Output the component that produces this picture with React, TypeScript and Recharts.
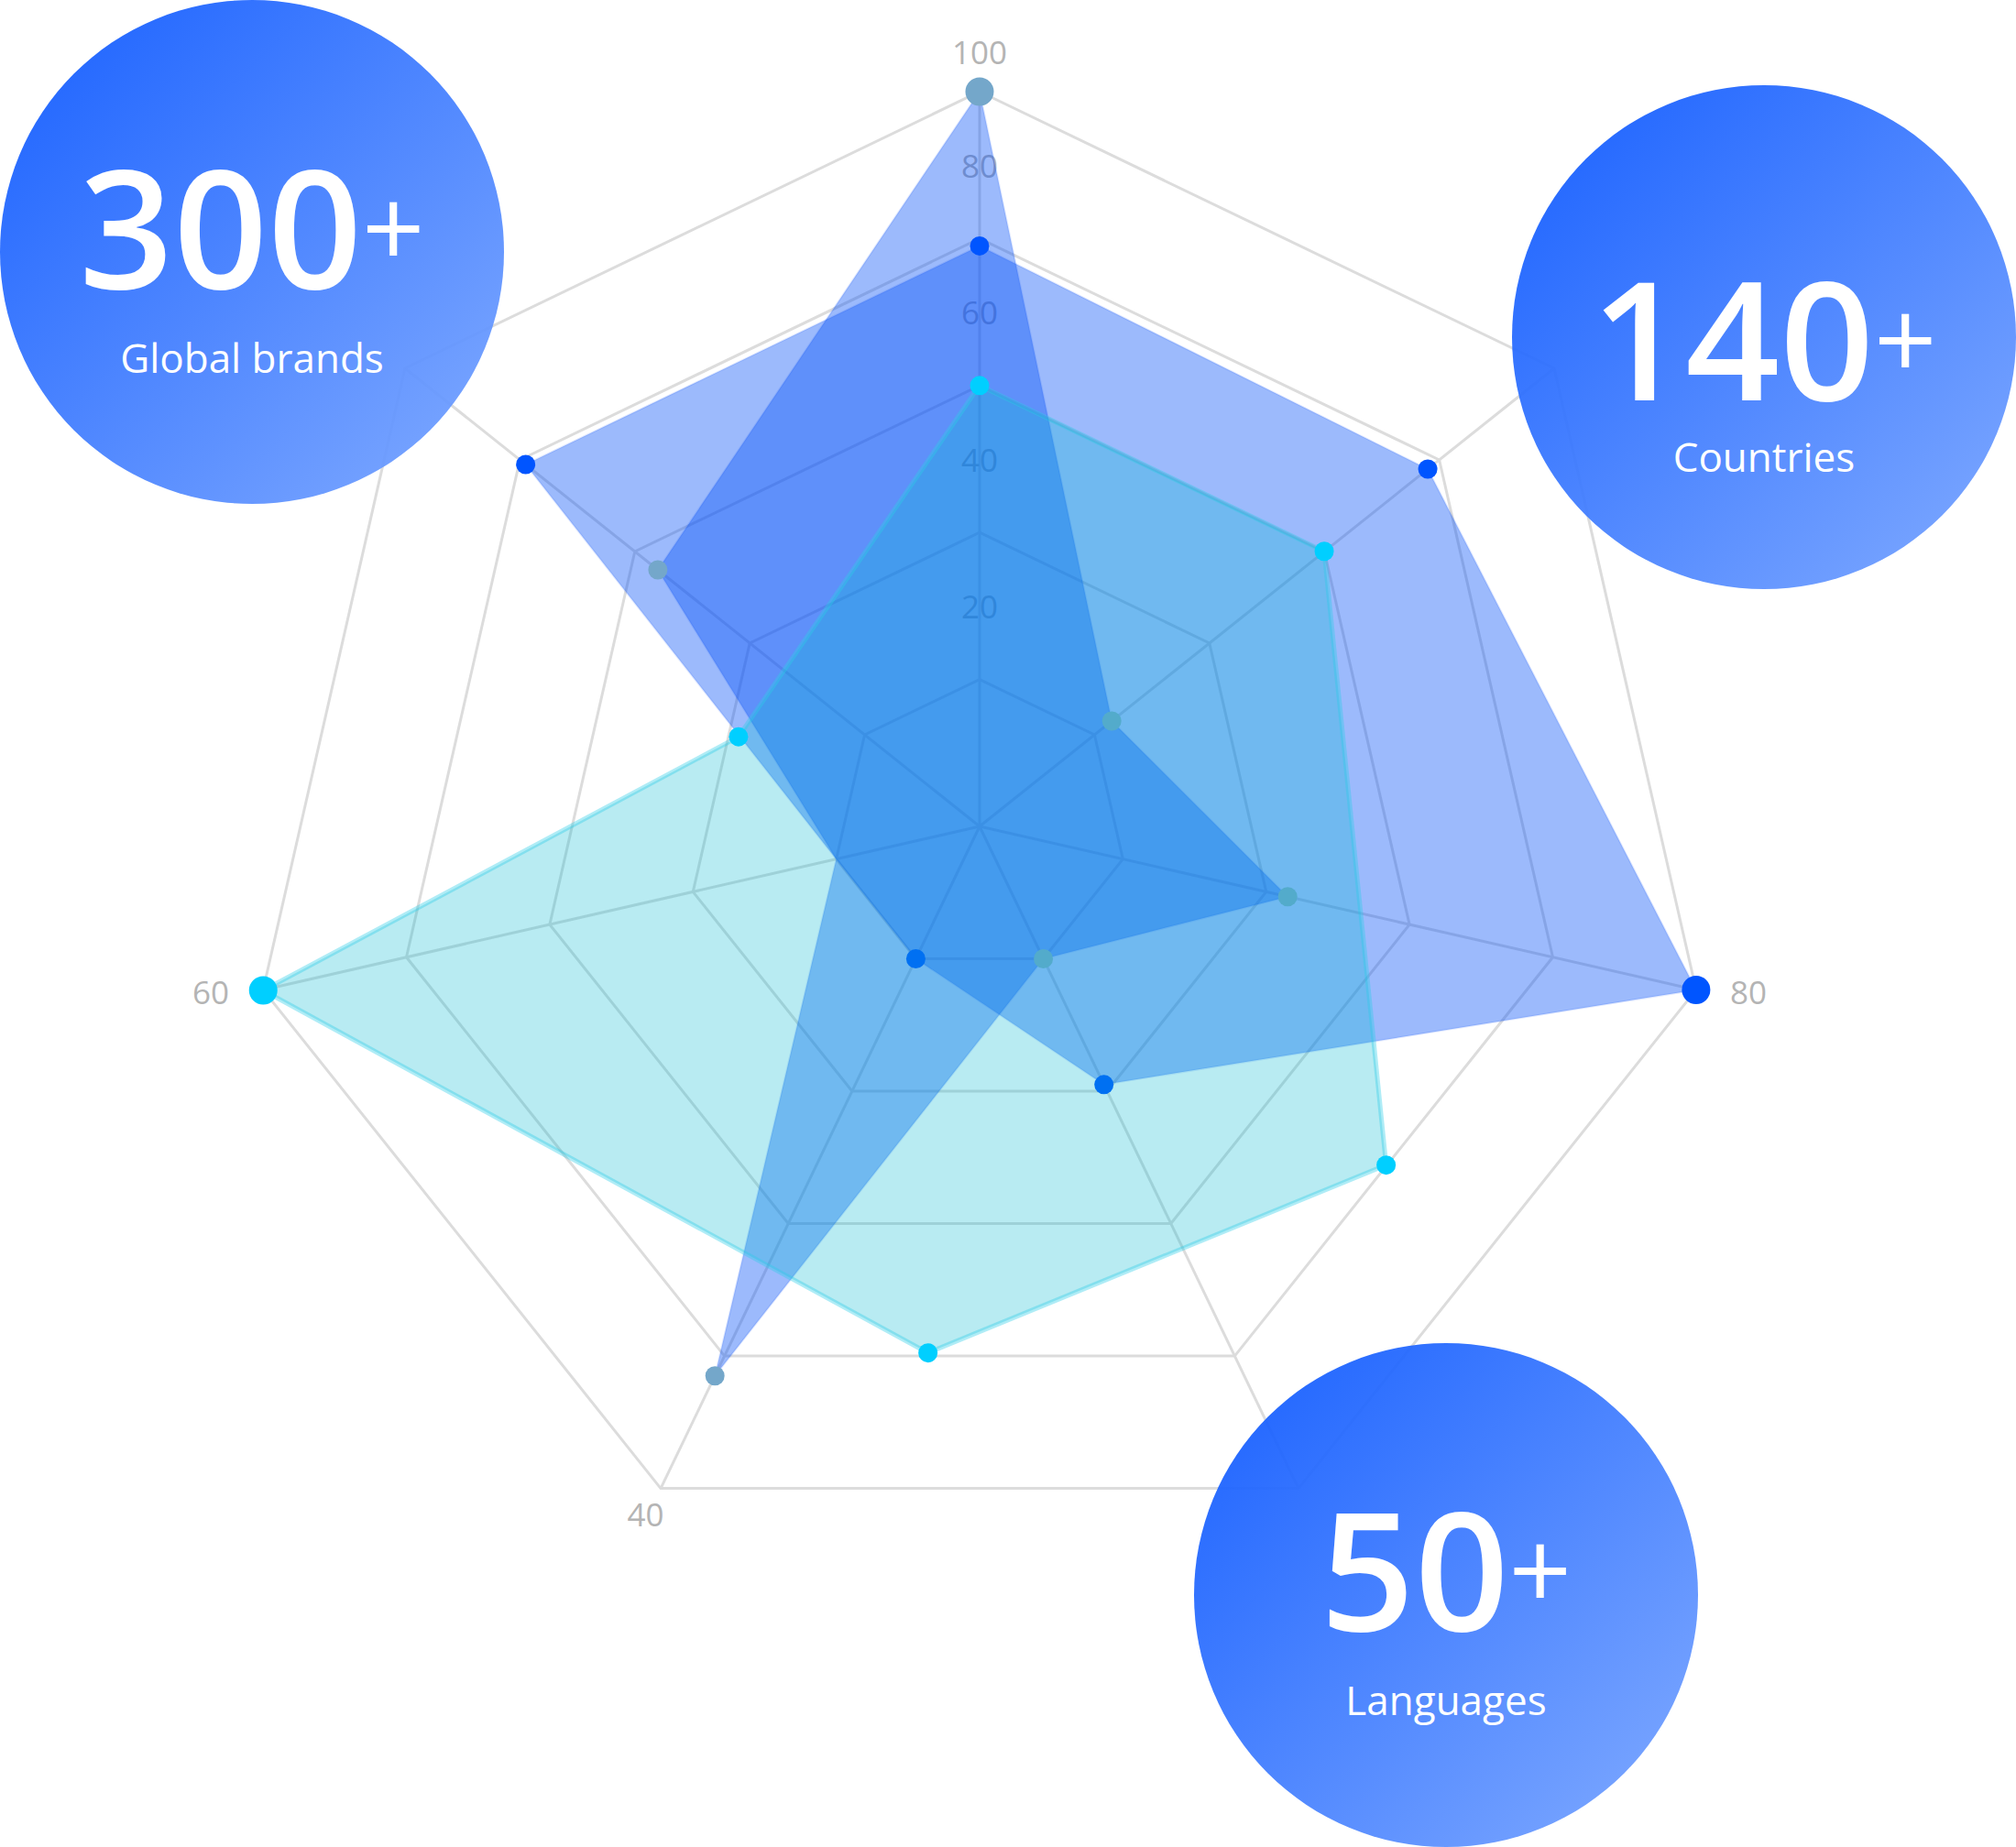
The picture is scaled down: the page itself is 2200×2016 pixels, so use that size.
import React from "react";
import {
  RadarChart,
  Radar,
  PolarGrid,
  PolarAngleAxis,
  PolarRadiusAxis,
} from "recharts";

const W = 2200;
const H = 2016;
const CX = 1069;
const CY = 902;
const R = 802;

// seven spokes, clockwise from the top; the reference shows no label on the
// three spokes that run under the stat circles
const AXIS_KEYS = ["n", "ne", "e", "se", "sw", "w", "nw"];
const AXIS_LABELS = ["100", "", "80", "", "40", "60", ""];
const SERIES_A = [100, 23, 43, 20, 83, 20, 56];
const SERIES_B = [79, 78, 100, 39, 20, 20, 79];
// spokes where the two blue shapes have a corner but no marker
const NO_DOT_AXES = ["w"];

// the cyan shape doesn't follow the spokes, so it has its own bearings (deg, clockwise from top)
const C_BEARINGS = [0, 51.4, 129.8, 185.6, 257.1, 290.4];
const SERIES_C = [60, 60, 72, 72, 100, 35];

const STAT_VALUES = ["300", "140", "50"];
const STAT_LABELS = ["Global brands", "Countries", "Languages"];

const STAT_POS = [
  { cx: 275, cy: 275, numY: 315, labelY: 407 },
  { cx: 1925, cy: 368, numY: 437, labelY: 515 },
  { cx: 1578, cy: 1741, numY: 1780, labelY: 1872 },
];

const FONT = "'Open Sans', 'Noto Sans', sans-serif";

const abRows = AXIS_KEYS.map((axis, i) => ({ axis, a: SERIES_A[i], b: SERIES_B[i] }));
const cRows = C_BEARINGS.map((bearing, i) => ({ bearing, c: SERIES_C[i] }));

const makeDot = (color: string, skip: string[]) => (props: any) => {
  const { cx, cy, index, payload } = props;
  const key = payload?.axis ?? payload?.payload?.axis ?? AXIS_KEYS[index];
  const value = props.value ?? payload?.value;
  const v = Array.isArray(value) ? value[value.length - 1] : value;
  if (cx == null || cy == null || skip.includes(String(key))) {
    return <g key={`dot-${index}`} />;
  }
  return (
    <circle key={`dot-${index}`} cx={cx} cy={cy} r={v >= 100 ? 15.5 : 10.5} fill={color} />
  );
};

const AngleTick = (props: any) => {
  const { x, y, payload, index } = props;
  const i = AXIS_KEYS.indexOf(payload.value);
  const label = AXIS_LABELS[i >= 0 ? i : index];
  if (!label) return <g />;
  const dx = x - CX;
  const dy = y - CY;
  const cos = dx / Math.sqrt(dx * dx + dy * dy || 1);
  const anchor = cos > 0.6 ? "start" : cos < -0.6 ? "end" : "middle";
  return (
    <text
      x={x}
      y={y}
      dy={-6}
      textAnchor={anchor}
      dominantBaseline="central"
      fontSize={35}
      fill="#b4b4b4"
      style={{ fontFamily: FONT }}
    >
      {label}
    </text>
  );
};

const RadiusTick = (props: any) => {
  const { x, y, payload, index } = props;
  if (payload.value === 0 || payload.value === 100) return <g key={`rt-${index}`} />;
  return (
    <text
      key={`rt-${index}`}
      x={x}
      y={y}
      dy={-80}
      textAnchor="middle"
      dominantBaseline="central"
      fontSize={35}
      fill="#b4b4b4"
      style={{ fontFamily: FONT }}
    >
      {payload.value}
    </text>
  );
};

export default function App() {
  return (
    <div
      style={{
        position: "absolute",
        left: 0,
        top: 0,
        width: W,
        height: H,
        background: "#fff",
        fontFamily: FONT,
        overflow: "hidden",
      }}
    >
      {/* grid + the two blue shapes */}
      <div style={{ position: "absolute", left: 0, top: 0 }}>
        <RadarChart
          width={W}
          height={H}
          cx={CX}
          cy={CY}
          outerRadius={R}
          data={abRows}
          margin={{ top: 0, right: 0, bottom: 0, left: 0 }}
        >
          <PolarGrid gridType="polygon" stroke="#dcdcdc" strokeWidth={3} />
          <PolarAngleAxis
            dataKey="axis"
            tick={AngleTick}
            tickLine={false}
            axisLine={false}
            tickSize={38}
          />
          <PolarRadiusAxis
            angle={90}
            domain={[0, 100]}
            tickCount={6}
            axisLine={false}
            tickLine={false}
            tick={RadiusTick}
            zIndex={-50}
          />
          <Radar
            dataKey="a"
            fill="#004cf7"
            fillOpacity={0.39}
            stroke="#004cf7"
            strokeOpacity={0.12}
            strokeWidth={2}
            dot={makeDot("#74a7ca", NO_DOT_AXES)}
            isAnimationActive={false}
          />
          <Radar
            dataKey="b"
            fill="#004cf7"
            fillOpacity={0.39}
            stroke="#004cf7"
            strokeOpacity={0.12}
            strokeWidth={2}
            dot={makeDot("#0055ff", NO_DOT_AXES)}
            isAnimationActive={false}
          />
        </RadarChart>
      </div>

      {/* cyan shape on its own numeric angle axis */}
      <div style={{ position: "absolute", left: 0, top: 0 }}>
        <RadarChart
          width={W}
          height={H}
          cx={CX}
          cy={CY}
          outerRadius={R}
          data={cRows}
          margin={{ top: 0, right: 0, bottom: 0, left: 0 }}
        >
          <PolarAngleAxis
            dataKey="bearing"
            type="number"
            domain={[0, 360]}
            tick={false}
            tickLine={false}
            axisLine={false}
          />
          <PolarRadiusAxis domain={[0, 100]} tick={false} axisLine={false} tickLine={false} />
          <Radar
            dataKey="c"
            fill="#00b8d1"
            fillOpacity={0.28}
            stroke="#2ccde8"
            strokeOpacity={0.38}
            strokeWidth={5}
            dot={makeDot("#00cfff", [])}
            isAnimationActive={false}
          />
        </RadarChart>
      </div>

      {/* stat bubbles */}
      <svg width={W} height={H} style={{ position: "absolute", left: 0, top: 0 }}>
        <defs>
          <linearGradient id="statFill" x1="0" y1="0" x2="1" y2="1">
            <stop offset="0" stopColor="#0a56ff" />
            <stop offset="1" stopColor="#7aa6ff" />
          </linearGradient>
        </defs>
        {STAT_VALUES.map((v, i) => {
          const p = STAT_POS[i];
          return (
            <g key={v}>
              <circle cx={p.cx} cy={p.cy} r={275} fill="url(#statFill)" opacity={0.94} />
              <text
                x={p.cx}
                y={p.numY}
                textAnchor="middle"
                fill="#fff"
                fontSize={180}
                fontWeight={600}
              >
                {v}
                <tspan fontSize={120} fontWeight={400} dy={-22}>
                  +
                </tspan>
              </text>
              <text x={p.cx} y={p.labelY} textAnchor="middle" fill="#fff" fontSize={44}>
                {STAT_LABELS[i]}
              </text>
            </g>
          );
        })}
      </svg>
    </div>
  );
}
